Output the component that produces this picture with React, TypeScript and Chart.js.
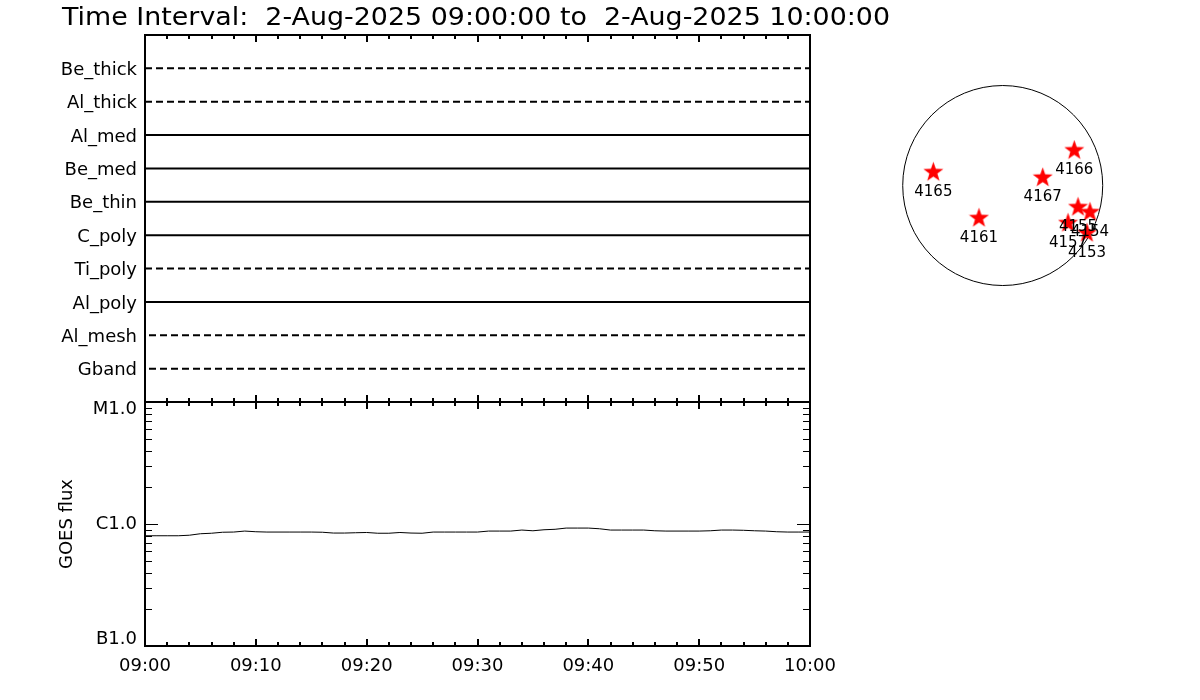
import React, { useEffect, useRef } from 'react';
import { Chart, registerables } from 'chart.js';
Chart.register(...registerables);

// ---------------- data ----------------
const titleText = 'Time Interval:  2-Aug-2025 09:00:00 to  2-Aug-2025 10:00:00';

const channelNames = ['Be_thick', 'Al_thick', 'Al_med', 'Be_med', 'Be_thin', 'C_poly', 'Ti_poly', 'Al_poly', 'Al_mesh', 'Gband'];
const channelDashed = [true, true, false, false, false, false, true, false, true, true];
const channelDashOffset = [0, 0, 0, 0, 0, 0, 0, 0, 7, 7];

const timeTickMinutes = [0, 10, 20, 30, 40, 50, 60];
const timeTickLabels = ['09:00', '09:10', '09:20', '09:30', '09:40', '09:50', '10:00'];

const goesMinutes = [
  0, 1, 2, 3, 4, 5, 6, 7, 8, 9, 10, 11, 12, 13, 14, 15, 16, 17, 18, 19, 20,
  21, 22, 23, 24, 25, 26, 27, 28, 29, 30, 31, 32, 33, 34, 35, 36, 37, 38, 39, 40,
  41, 42, 43, 44, 45, 46, 47, 48, 49, 50, 51, 52, 53, 54, 55, 56, 57, 58, 59, 60,
];
const goesFlux = [
  8.01e-7, 8.01e-7, 8.01e-7, 8.01e-7, 8.09e-7, 8.32e-7, 8.40e-7, 8.56e-7, 8.59e-7, 8.75e-7,
  8.64e-7, 8.59e-7, 8.59e-7, 8.59e-7, 8.59e-7, 8.59e-7, 8.56e-7, 8.43e-7, 8.43e-7, 8.48e-7,
  8.52e-7, 8.40e-7, 8.40e-7, 8.52e-7, 8.43e-7, 8.40e-7, 8.59e-7, 8.59e-7, 8.59e-7, 8.59e-7,
  8.59e-7, 8.75e-7, 8.75e-7, 8.75e-7, 8.92e-7, 8.80e-7, 8.97e-7, 9.05e-7, 9.26e-7, 9.26e-7,
  9.26e-7, 9.14e-7, 8.92e-7, 8.92e-7, 8.92e-7, 8.92e-7, 8.80e-7, 8.75e-7, 8.75e-7, 8.75e-7,
  8.75e-7, 8.80e-7, 8.92e-7, 8.92e-7, 8.88e-7, 8.80e-7, 8.75e-7, 8.64e-7, 8.59e-7, 8.59e-7,
  8.59e-7,
];

const goesClassValues = [1e-7, 1e-6, 1e-5];
const goesClassLabels = ['B1.0', 'C1.0', 'M1.0'];

const regionNumbers = ['4165', '4161', '4167', '4166', '4155', '4154', '4157', '4153'];
const regionX = [-666, -228, 384, 687, 723, 838, 627, 809];
const regionY = [132, -309, 79, 341, -204, -252, -357, -453];
const solarRadius = 960;

// ---------------- styling helpers ----------------
const FONT = "'DejaVu Sans', 'Liberation Sans', sans-serif";

function makeStarImage(size: number, color: string) {
  const c = document.createElement('canvas');
  c.width = size;
  c.height = size;
  const ctx = c.getContext('2d')!;
  const cx = size / 2;
  const cy = size / 2 + 0.5;
  const ro = size / 2;
  const ri = ro * 0.4;
  ctx.beginPath();
  for (let k = 0; k < 10; k++) {
    const r = k % 2 === 0 ? ro : ri;
    const a = -Math.PI / 2 + (k * Math.PI) / 5;
    const px = cx + r * Math.cos(a);
    const py = cy + r * Math.sin(a);
    if (k === 0) ctx.moveTo(px, py);
    else ctx.lineTo(px, py);
  }
  ctx.closePath();
  ctx.fillStyle = color;
  ctx.fill();
  return c;
}

type FrameOpts = {
  xTop: boolean;
  xBottom: boolean;
  logY: boolean;
};

function framePlugin(o: FrameOpts) {
  return {
    id: 'idlFrame',
    afterDatasetsDraw(chart: any) {
      const { ctx, chartArea } = chart;
      const { left, right, top, bottom } = chartArea;
      const xs = chart.scales.x;
      ctx.save();
      ctx.strokeStyle = '#000';
      ctx.lineWidth = 2;
      ctx.beginPath();
      ctx.rect(left, top, right - left, bottom - top);
      ctx.stroke();
      // time ticks every 2 minutes, majors every 10
      ctx.beginPath();
      for (let m = 0; m <= 60; m += 2) {
        const px = Math.round(xs.getPixelForValue(m));
        const len = m % 10 === 0 ? 7 : 4;
        if (o.xTop) {
          ctx.moveTo(px, top);
          ctx.lineTo(px, top + len);
        }
        if (o.xBottom) {
          ctx.moveTo(px, bottom);
          ctx.lineTo(px, bottom - len);
        }
      }
      ctx.stroke();
      if (o.logY) {
        const ys = chart.scales.y;
        ctx.lineWidth = 1;
        ctx.beginPath();
        for (let e = -7; e <= -5; e++) {
          for (let d = 1; d <= 9; d++) {
            const v = d * Math.pow(10, e);
            if (v > 1.0001e-5) break;
            const py = Math.round(ys.getPixelForValue(v)) + 0.5;
            const len = d === 1 ? 13 : 7;
            ctx.moveTo(left, py);
            ctx.lineTo(left + len, py);
            ctx.moveTo(right, py);
            ctx.lineTo(right - len, py);
          }
        }
        ctx.stroke();
      }
      ctx.restore();
    },
  };
}

const titlePlugin = {
  id: 'idlTitle',
  afterDraw(chart: any) {
    const ctx = chart.ctx;
    ctx.save();
    ctx.font = `25px ${FONT}`;
    ctx.fillStyle = '#000';
    ctx.textBaseline = 'alphabetic';
    ctx.textAlign = 'left';
    const w = ctx.measureText(titleText).width;
    ctx.translate(62, 25);
    ctx.scale(828 / w, 1);
    ctx.fillText(titleText, 0, 0);
    ctx.restore();
  },
};

const diskPlugin = {
  id: 'solarDisk',
  beforeDatasetsDraw(chart: any) {
    const { ctx } = chart;
    const xs = chart.scales.x;
    const ys = chart.scales.y;
    const cx = xs.getPixelForValue(0);
    const cy = ys.getPixelForValue(0);
    const r = xs.getPixelForValue(solarRadius) - cx;
    ctx.save();
    ctx.strokeStyle = '#000';
    ctx.lineWidth = 1;
    ctx.beginPath();
    ctx.arc(cx, cy, r, 0, Math.PI * 2);
    ctx.stroke();
    ctx.restore();
  },
  afterDatasetsDraw(chart: any) {
    const { ctx } = chart;
    const meta = chart.getDatasetMeta(0);
    ctx.save();
    ctx.font = `15px ${FONT}`;
    ctx.fillStyle = '#000';
    ctx.textAlign = 'center';
    ctx.textBaseline = 'middle';
    meta.data.forEach((pt: any, i: number) => {
      ctx.fillText(regionNumbers[i], pt.x, pt.y + 20);
    });
    ctx.restore();
  },
};

export default function App() {
  const topRef = useRef<HTMLCanvasElement>(null);
  const botRef = useRef<HTMLCanvasElement>(null);
  const sunRef = useRef<HTMLCanvasElement>(null);

  useEffect(() => {
    document.body.style.margin = '0';
    Chart.defaults.color = '#000';
    Chart.defaults.font.family = FONT;

    const top = new Chart(topRef.current!, {
      type: 'line',
      data: {
        datasets: channelNames.map((n, i) => ({
          label: n,
          data: [
            { x: timeTickMinutes[0], y: channelNames.length - i },
            { x: timeTickMinutes[timeTickMinutes.length - 1], y: channelNames.length - i },
          ],
          borderColor: '#000',
          borderWidth: 2,
          borderDash: channelDashed[i] ? [7, 4] : [],
          borderDashOffset: channelDashOffset[i],
          pointRadius: 0,
          fill: false,
        })),
      },
      options: {
        responsive: false,
        animation: false,
        devicePixelRatio: 1,
        layout: { autoPadding: false, padding: { top: 35, right: 90, bottom: 20, left: 0 } },
        plugins: { legend: { display: false }, tooltip: { enabled: false } },
        scales: {
          x: { type: 'linear', min: 0, max: 60, display: false },
          y: {
            type: 'linear',
            min: 0,
            max: channelNames.length + 1,
            afterFit: (s: any) => {
              s.width = 145;
            },
            afterBuildTicks: (s: any) => {
              s.ticks = channelNames.map((_, i) => ({ value: channelNames.length - i }));
            },
            ticks: {
              callback: (v: any) => channelNames[channelNames.length - Number(v)],
              padding: 8,
              labelOffset: 2,
              font: { size: 18, family: FONT },
              color: '#000',
            },
            grid: { display: false, drawTicks: false },
            border: { display: false },
          },
        },
      } as any,
      plugins: [titlePlugin, framePlugin({ xTop: true, xBottom: true, logY: false })],
    });

    const bot = new Chart(botRef.current!, {
      type: 'line',
      data: {
        datasets: [
          {
            label: 'GOES',
            data: goesMinutes.map((m, i) => ({ x: m, y: goesFlux[i] })),
            borderColor: '#000',
            borderWidth: 1,
            pointRadius: 0,
            tension: 0,
            fill: false,
          },
        ],
      },
      options: {
        responsive: false,
        animation: false,
        devicePixelRatio: 1,
        layout: { autoPadding: false, padding: { top: 30, right: 40, bottom: 0, left: 0 } },
        plugins: { legend: { display: false }, tooltip: { enabled: false } },
        scales: {
          x: {
            type: 'linear',
            min: 0,
            max: 60,
            afterFit: (s: any) => {
              s.height = 54;
            },
            afterBuildTicks: (s: any) => {
              s.ticks = timeTickMinutes.map((m) => ({ value: m }));
            },
            ticks: {
              callback: (_v: any, i: number) => timeTickLabels[i],
              padding: 10,
              maxRotation: 0,
              font: { size: 18, family: FONT },
              color: '#000',
            },
            grid: { display: false, drawTicks: false },
            border: { display: false },
          },
          y: {
            type: 'logarithmic',
            min: goesClassValues[0],
            max: goesClassValues[goesClassValues.length - 1],
            afterFit: (s: any) => {
              s.width = 145;
            },
            afterBuildTicks: (s: any) => {
              s.ticks = goesClassValues.map((v) => ({ value: v }));
            },
            ticks: {
              // end labels are kept inside the panel, as in the reference
              callback: (_v: any, i: number) => {
                const lab = goesClassLabels[i];
                if (i === 0) return [lab, ''];
                if (i === goesClassLabels.length - 1) return ['', lab];
                return lab;
              },
              padding: 8,
              font: { size: 18, family: FONT, lineHeight: 0.78 },
              color: '#000',
            },
            title: {
              display: true,
              text: 'GOES flux',
              font: { size: 18, family: FONT },
              color: '#000',
              padding: { top: 57, bottom: 0 },
            },
            grid: { display: false, drawTicks: false },
            border: { display: false },
          },
        },
      } as any,
      plugins: [framePlugin({ xTop: true, xBottom: true, logY: true })],
    });

    const star = makeStarImage(21, '#ff0000');
    const sun = new Chart(sunRef.current!, {
      type: 'scatter',
      data: {
        datasets: [
          {
            label: 'Regions',
            data: regionX.map((x, i) => ({ x, y: regionY[i] })),
            pointStyle: star as any,
            pointRadius: 10,
            backgroundColor: '#ff0000',
            borderColor: '#ff0000',
            clip: false as any,
          },
        ],
      },
      options: {
        responsive: false,
        animation: false,
        devicePixelRatio: 1,
        layout: { autoPadding: false, padding: 0 },
        plugins: { legend: { display: false }, tooltip: { enabled: false } },
        scales: {
          x: { type: 'linear', min: -1178, max: 1318, display: false },
          y: { type: 'linear', min: -1195, max: 1109, display: false },
        },
      } as any,
      plugins: [diskPlugin],
    });

    return () => {
      top.destroy();
      bot.destroy();
      sun.destroy();
    };
  }, []);

  return (
    <div style={{ position: 'relative', width: 1200, height: 700, background: '#fff', overflow: 'hidden' }}>
      <canvas ref={topRef} width={900} height={422} style={{ position: 'absolute', left: 0, top: 0, width: 900, height: 422 }} />
      <canvas ref={botRef} width={850} height={328} style={{ position: 'absolute', left: 0, top: 372, width: 850, height: 328 }} />
      <canvas ref={sunRef} width={260} height={240} style={{ position: 'absolute', left: 880, top: 70, width: 260, height: 240 }} />
    </div>
  );
}
